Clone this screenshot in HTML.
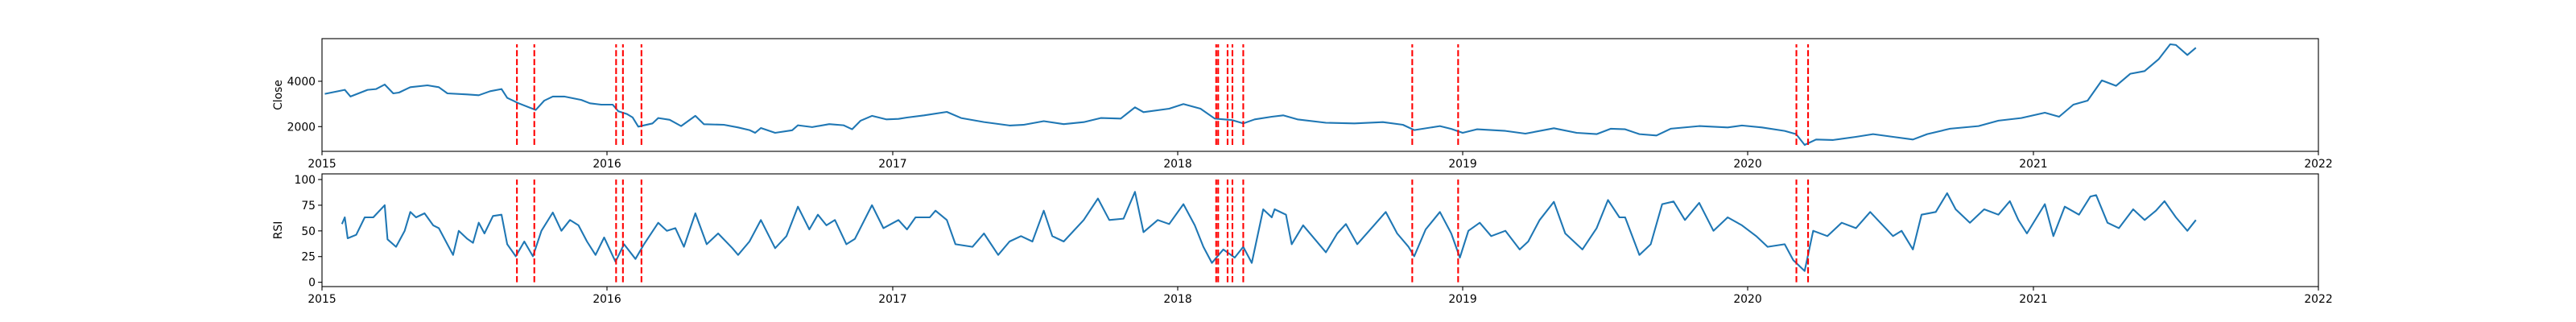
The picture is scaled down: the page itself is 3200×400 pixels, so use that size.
<!DOCTYPE html>
<html><head><meta charset="utf-8"><style>
html,body{margin:0;padding:0;background:#fff;}
svg{display:block;font-family:"DejaVu Sans","Liberation Sans",sans-serif;}
</style></head><body>
<svg id="fig" width="3200" height="400" xmlns="http://www.w3.org/2000/svg"></svg>
<script>
const closeYears=[2015.01,2015.08,2015.10,2015.16,2015.19,2015.22,2015.25,2015.27,2015.31,2015.37,2015.41,2015.44,2015.51,2015.55,2015.59,2015.63,2015.65,2015.69,2015.75,2015.78,2015.81,2015.85,2015.91,2015.94,2015.98,2016.02,2016.04,2016.07,2016.09,2016.11,2016.16,2016.18,2016.22,2016.26,2016.31,2016.34,2016.41,2016.46,2016.50,2016.52,2016.54,2016.59,2016.65,2016.67,2016.72,2016.78,2016.83,2016.86,2016.89,2016.93,2016.98,2017.02,2017.05,2017.11,2017.19,2017.24,2017.32,2017.41,2017.46,2017.53,2017.60,2017.67,2017.73,2017.80,2017.85,2017.88,2017.97,2018.02,2018.08,2018.13,2018.19,2018.23,2018.27,2018.33,2018.37,2018.42,2018.52,2018.62,2018.72,2018.79,2018.83,2018.92,2018.96,2019.00,2019.05,2019.15,2019.22,2019.32,2019.40,2019.47,2019.52,2019.57,2019.62,2019.68,2019.73,2019.83,2019.93,2019.98,2020.05,2020.13,2020.17,2020.20,2020.24,2020.30,2020.38,2020.44,2020.51,2020.58,2020.63,2020.71,2020.81,2020.88,2020.96,2021.04,2021.09,2021.14,2021.19,2021.24,2021.29,2021.34,2021.39,2021.44,2021.48,2021.50,2021.54,2021.57];
const closeValues=[3444,3621,3326,3621,3657,3858,3467,3500,3740,3822,3740,3467,3420,3385,3562,3657,3266,3030,2734,3148,3326,3326,3180,3030,2970,2970,2675,2557,2403,2000,2142,2379,2300,2024,2474,2107,2080,1965,1847,1728,1941,1728,1840,2060,1980,2110,2060,1883,2261,2474,2320,2340,2400,2497,2651,2380,2202,2048,2080,2240,2110,2200,2380,2355,2852,2640,2793,2994,2793,2355,2290,2143,2320,2438,2497,2320,2170,2143,2200,2083,1847,2024,1900,1728,1883,1810,1692,1929,1728,1669,1906,1883,1669,1610,1906,2024,1965,2048,1965,1811,1669,1195,1432,1410,1550,1669,1550,1432,1669,1906,2024,2261,2379,2615,2438,2970,3148,4036,3800,4331,4450,4982,5633,5600,5160,5480];
const rsiYears=[2015.07,2015.08,2015.09,2015.12,2015.15,2015.18,2015.22,2015.23,2015.26,2015.29,2015.31,2015.33,2015.36,2015.39,2015.41,2015.43,2015.46,2015.48,2015.51,2015.53,2015.55,2015.57,2015.60,2015.63,2015.65,2015.68,2015.71,2015.74,2015.77,2015.81,2015.84,2015.87,2015.90,2015.93,2015.96,2015.99,2016.03,2016.06,2016.10,2016.13,2016.18,2016.21,2016.24,2016.27,2016.31,2016.35,2016.39,2016.44,2016.46,2016.50,2016.54,2016.59,2016.63,2016.67,2016.71,2016.74,2016.77,2016.80,2016.84,2016.87,2016.93,2016.97,2017.02,2017.05,2017.08,2017.13,2017.15,2017.19,2017.22,2017.28,2017.32,2017.37,2017.41,2017.45,2017.49,2017.53,2017.56,2017.60,2017.67,2017.72,2017.76,2017.81,2017.85,2017.88,2017.93,2017.97,2018.02,2018.06,2018.09,2018.12,2018.16,2018.20,2018.23,2018.26,2018.30,2018.33,2018.34,2018.38,2018.40,2018.44,2018.52,2018.56,2018.59,2018.63,2018.68,2018.73,2018.77,2018.81,2018.83,2018.87,2018.92,2018.96,2018.99,2019.02,2019.06,2019.10,2019.15,2019.20,2019.23,2019.27,2019.32,2019.36,2019.42,2019.47,2019.51,2019.55,2019.57,2019.62,2019.66,2019.70,2019.74,2019.78,2019.83,2019.88,2019.93,2019.98,2020.03,2020.07,2020.13,2020.16,2020.20,2020.23,2020.28,2020.33,2020.38,2020.43,2020.47,2020.51,2020.54,2020.58,2020.61,2020.66,2020.70,2020.73,2020.78,2020.83,2020.88,2020.92,2020.95,2020.98,2021.04,2021.07,2021.11,2021.16,2021.20,2021.22,2021.26,2021.30,2021.35,2021.39,2021.43,2021.46,2021.50,2021.54,2021.57];
const rsiValues=[56.7,63.2,42.8,46.2,63.2,63.2,75,41.8,34.5,50.1,68.4,63.2,67.1,55.4,52.7,42.3,26.6,50.1,42.3,38.4,58,47.5,64.5,65.8,37,25.3,39.7,25.3,50.1,67.9,50.1,60.6,55.4,39.7,26.6,43.6,20,37,22.7,37,57.9,50.1,52.7,34.5,67.1,37,47.5,33.2,26.6,39.7,60.6,33.2,44.9,73.6,51.4,65.8,55.4,60.6,37,42.3,75,52.7,60.6,51.4,63.2,63.2,69.7,60.6,37,34.5,47.5,26.6,39.7,44.9,39.7,69.7,44.9,39.7,60.6,81.5,60.6,61.9,88,48.8,60.6,56.7,76,55.4,34.5,18.8,31.9,24,34.5,18.8,71,63.2,71,65.8,37,55.4,29.2,47.5,56.7,37,52.7,68.4,47.5,34.5,25.3,51.4,68.4,47.5,24,50.1,57.9,44.9,50.1,31.9,39.7,60.6,78.3,47.5,31.9,52.7,80,63.2,63.2,26.6,37,76,78.6,60.6,77.3,50.1,63.2,55.4,44.9,34.5,37,21.4,11,50.1,44.9,57.9,52.7,68.4,56.7,44.9,50.1,31.9,65.8,68.4,86.7,71,57.9,71,65.8,78.9,60.6,47.5,76,44.9,73.6,65.8,83.5,84.8,57.9,52.7,71,60.6,69.7,78.9,63.2,50.1,60.6];
const signalYears=[2015.684,2015.745,2016.032,2016.056,2016.121,2018.135,2018.142,2018.175,2018.192,2018.230,2018.823,2018.984,2020.171,2020.212];
const xTickLabels=["2015","2016","2017","2018","2019","2020","2021","2022"];
const closeTicks=[2000,4000];
const rsiTicks=[0,25,50,75,100];

const NS="http://www.w3.org/2000/svg";
const svg=document.getElementById('fig');
function mk(tag,attrs,parent){const e=document.createElementNS(NS,tag);for(const k in attrs)e.setAttribute(k,attrs[k]);(parent||svg).appendChild(e);return e;}
const X0=400,X1=2880;
function yearToFrac(y){const yr=Math.floor(y);const f=y-yr;const days=(yr-2015)*365+Math.floor((yr-2013)/4)+f*365;return days;}
const xTotal=yearToFrac(2022);
function xs(y){return X0+(yearToFrac(y)/xTotal)*(X1-X0);}

function panel(name,top,bot,ylo,yhi,years,vals,ticks,ylabel,vlo,vhi){
  const ys=v=>bot-(v-ylo)/(yhi-ylo)*(bot-top);
  const g=mk('g',{});
  
  
  // series
  let d='';years.forEach((yr,i)=>{d+=(i?'L':'M')+xs(yr).toFixed(1)+' '+ys(vals[i]).toFixed(1);});
  const line=mk('path',{d:d,fill:'none',stroke:'#1f77b4','stroke-width':2.08,'stroke-linejoin':'round'},g);
  
  
  // signal lines
  signalYears.forEach(s=>{
    const l=mk('line',{x1:xs(s),x2:xs(s),y1:ys(vlo),y2:ys(vhi),stroke:'#ff0000','stroke-width':2.08,'stroke-dasharray':'7.7 3.3'},g);
    
    
  });
  // frame
  const fr=mk('rect',{x:X0,y:top,width:X1-X0,height:bot-top,fill:'none',stroke:'#000','stroke-width':1.1},g);
  
  
  // y ticks
  ticks.forEach(t=>{
    const y=ys(t);
    mk('line',{x1:X0-4.9,x2:X0,y1:y,y2:y,stroke:'#000','stroke-width':1.1},g);
    const tx=mk('text',{x:X0-8,y:y+5,'text-anchor':'end','font-size':13.9,fill:'#000'},g);
    tx.textContent=t;
    
    
  });
  // x ticks
  xTickLabels.forEach(lab=>{
    const x=xs(+lab);
    mk('line',{x1:x,x2:x,y1:bot,y2:bot+4.9,stroke:'#000','stroke-width':1.1},g);
    const tx=mk('text',{x:x,y:bot+20,'text-anchor':'middle','font-size':13.9,fill:'#000'},g);
    tx.textContent=lab;
    
    
  });
  const yl=mk('text',{x:0,y:0,'text-anchor':'middle','font-size':13.9,fill:'#000',transform:'translate('+(X0-50)+','+((top+bot)/2)+') rotate(-90)'},g);
  yl.textContent=ylabel;
  
  
}
panel('close',48,188,910,5880,closeYears,closeValues,closeTicks,'Close',Math.min(...closeValues),Math.max(...closeValues));
panel('rsi',216,356,-4.2,105.5,rsiYears,rsiValues,rsiTicks,'RSI',0,100);
</script>
</body></html>
